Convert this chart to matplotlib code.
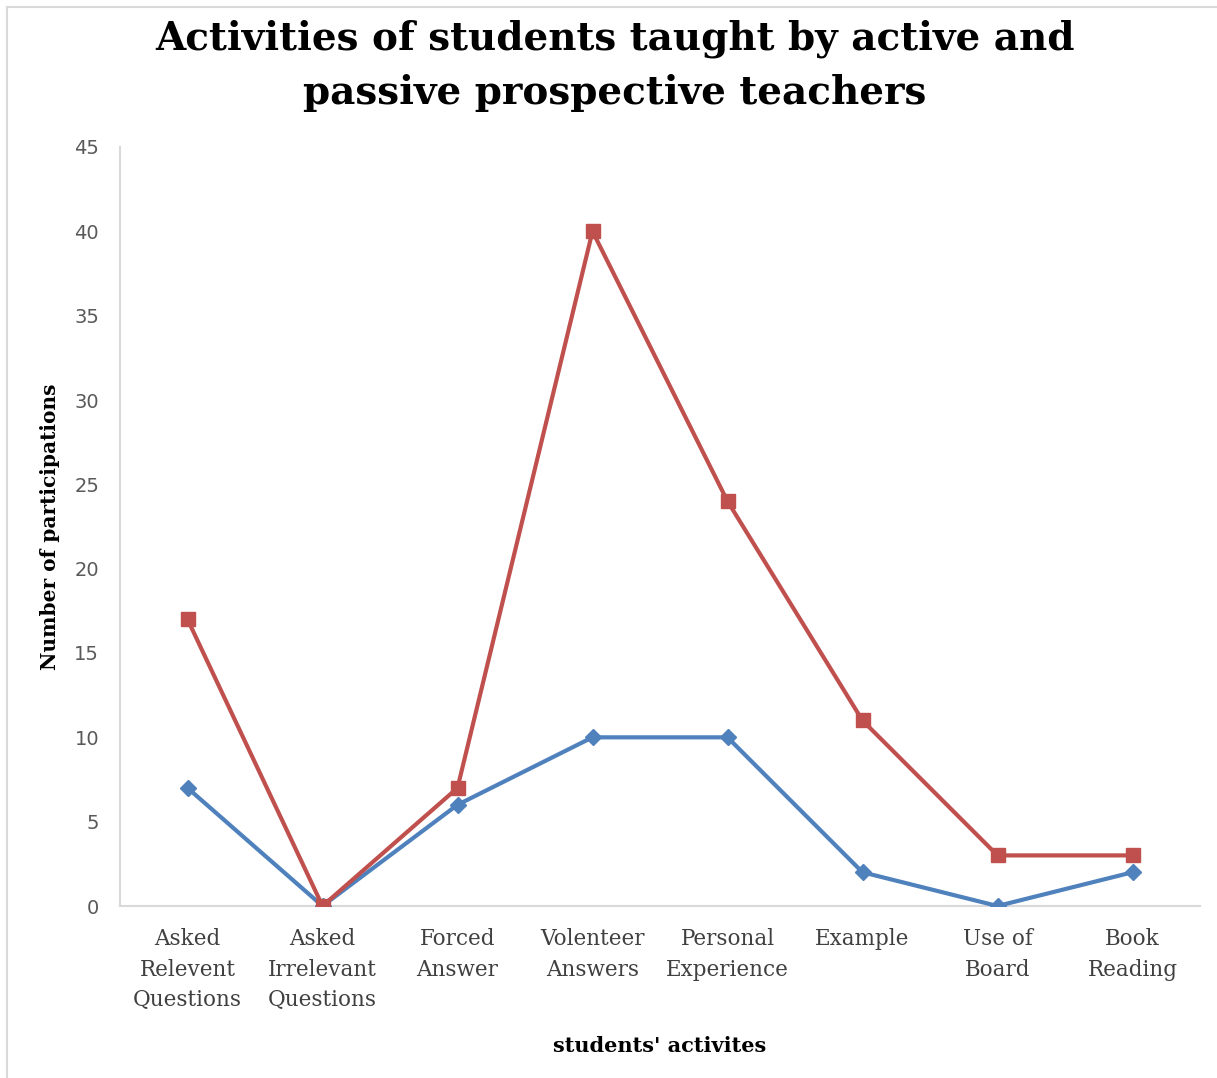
import matplotlib
matplotlib.use("Agg")
import matplotlib.pyplot as plt
from matplotlib.lines import Line2D

categories = ["Asked\nRelevent\nQuestions", "Asked\nIrrelevant\nQuestions", "Forced\nAnswer",
              "Volenteer\nAnswers", "Personal\nExperience", "Example", "Use of\nBoard", "Book\nReading"]
active = [17, 0, 7, 40, 24, 11, 3, 3]
passive = [7, 0, 6, 10, 10, 2, 0, 2]
yticks = [0, 5, 10, 15, 20, 25, 30, 35, 40, 45]

W, H = 1217, 1078
fig = plt.figure(figsize=(W / 100, H / 100), dpi=100)

# light frame around the chart area
fig.add_artist(Line2D([7 / W, 7 / W], [0, 1 - 7 / H], color="#d9d9d9", lw=1.5))
fig.add_artist(Line2D([7 / W, 1], [1 - 7 / H, 1 - 7 / H], color="#d9d9d9", lw=1.5))

ax = fig.add_axes([120 / W, 1 - 906 / H, 1080 / W, 759 / H])
x = list(range(len(categories)))
ax.plot(x, passive, color="#4F81BD", lw=3, marker="D", ms=8, zorder=3)
ax.plot(x, active, color="#C0504D", lw=3, marker="s", ms=10, zorder=4)

ax.set_xlim(-0.5, len(categories) - 0.5)
ax.set_ylim(0, 45)
ax.set_yticks(yticks)
ax.set_yticklabels([str(v) for v in yticks], fontsize=14, color="#595959", family="DejaVu Sans")
ax.set_xticks(x)
ax.set_xticklabels(categories, fontsize=15.5, color="#404040", family="DejaVu Serif",
                   linespacing=1.5)
ax.tick_params(axis="both", length=0)
ax.tick_params(axis="y", pad=15)
ax.tick_params(axis="x", pad=16)

for side in ["top", "right"]:
    ax.spines[side].set_visible(False)
for side in ["left", "bottom"]:
    ax.spines[side].set_color("#d9d9d9")
    ax.spines[side].set_linewidth(1.5)
ax.spines["bottom"].set_zorder(1)

ax.set_ylabel("Number of participations", fontsize=14.5, fontweight="bold",
              family="DejaVu Serif", labelpad=10)
ax.set_xlabel("students' activites", fontsize=15, fontweight="bold",
              family="DejaVu Serif", labelpad=18)

fig.text(615 / W, 1 - 66 / H,
         "Activities of students taught by active and\npassive prospective teachers",
         ha="center", va="center", fontsize=28, fontweight="bold",
         family="DejaVu Serif", linespacing=1.55)

fig.savefig("out.png", dpi=100)
